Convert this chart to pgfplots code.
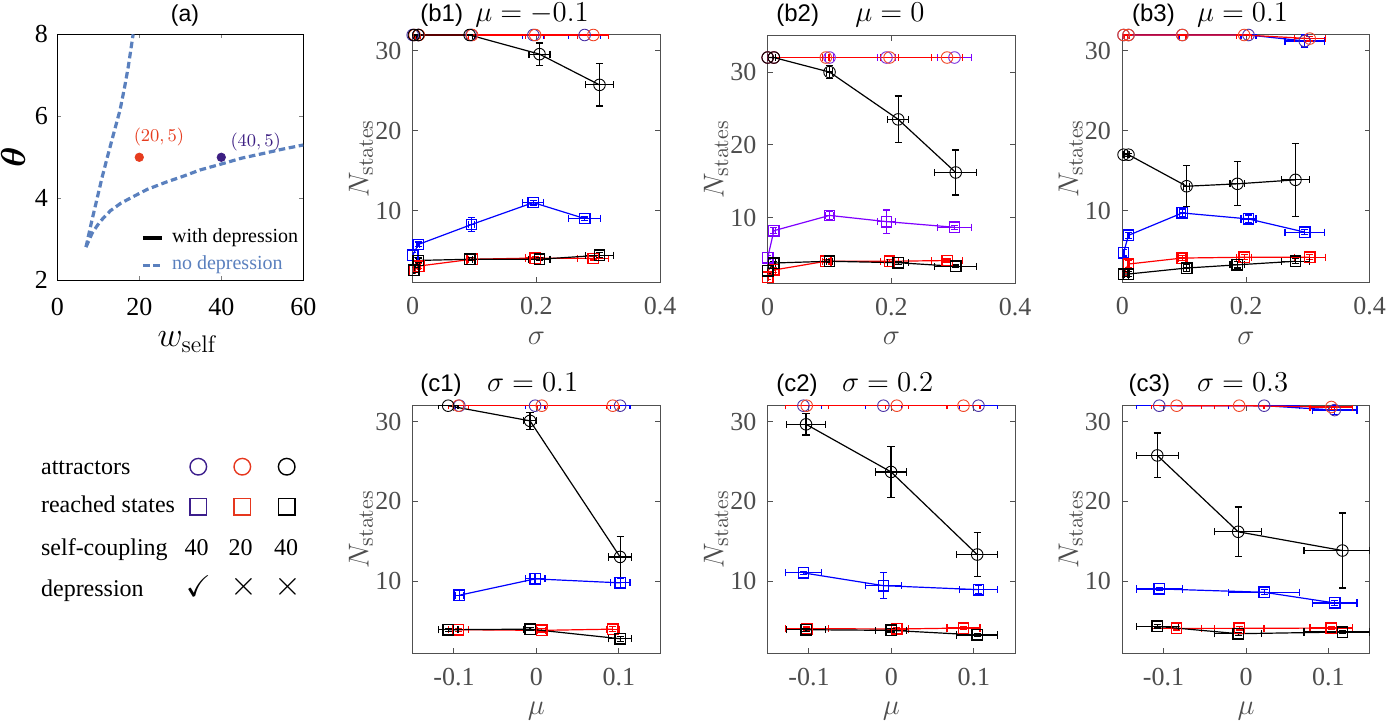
\documentclass[border=0pt]{standalone}
\usepackage[no-math]{fontspec}
\setmainfont{Liberation Serif}
\setsansfont{Liberation Sans}
\usepackage{amssymb}
\usepackage{bm}
\usepackage{pgfplots}
\usepackage{pgfplotstable}
\pgfplotsset{compat=1.18}

\definecolor{axgray}{RGB}{80,80,80}
\definecolor{tickgray}{RGB}{77,77,77}
\definecolor{mblue}{RGB}{0,0,255}
\definecolor{mviolet}{RGB}{127,0,255}
\definecolor{cpurple}{RGB}{75,50,165}
\definecolor{cviolet}{RGB}{120,40,220}
\definecolor{mred}{RGB}{255,0,0}
\definecolor{cred}{RGB}{240,70,40}
\definecolor{legpurple}{RGB}{60,30,140}
\definecolor{legred}{RGB}{230,55,30}
\definecolor{curveblue}{RGB}{90,128,190}
\definecolor{dotred}{RGB}{230,60,30}
\definecolor{dotpurple}{RGB}{60,30,130}

% ---------------- data: x  xerr  attractors  err  reached  err
\pgfplotstableread{
x xe yc yce ys yse
0.000 0.001 32 0 4.40 0.30
0.009 0.002 32 0 5.75 0.30
0.095 0.005 32 0 8.25 0.85
0.195 0.017 32 0 11.00 0.30
0.278 0.026 32 0 9.00 0.20
}\bOneBlue
\pgfplotstableread{
x xe yc yce ys yse
0.003 0.001 32 0 2.55 0.30
0.010 0.002 32 0 3.05 0.30
0.096 0.006 32 0 3.90 0.20
0.198 0.015 32 0 4.05 0.20
0.292 0.025 32 0 4.00 0.20
}\bOneRed
\pgfplotstableread{
x xe yc yce ys yse
0.002 0.001 32 0 2.55 0.30
0.009 0.002 32 0 3.75 0.30
0.092 0.005 32 0 3.90 0.20
0.205 0.017 29.6 1.4 3.90 0.20
0.302 0.023 25.75 2.65 4.40 0.30
}\bOneBlack
\pgfplotstableread{
x xe yc yce ys yse
0.000 0.001 32 0 4.50 0.30
0.010 0.002 32 0 8.20 0.40
0.100 0.006 32 0 10.30 0.60
0.192 0.015 32 0 9.45 1.60
0.302 0.027 32 0 8.67 0.30
}\bTwoBlue
\pgfplotstableread{
x xe yc yce ys yse
0.000 0.001 32 0 1.80 0.30
0.010 0.002 32 0 2.80 0.30
0.094 0.005 32 0 4.00 0.20
0.197 0.015 32 0 4.00 0.20
0.290 0.025 32 0 4.10 0.20
}\bTwoRed
\pgfplotstableread{
x xe yc yce ys yse
0.000 0.001 32 0 2.70 0.30
0.010 0.002 32 0 3.76 0.20
0.100 0.005 30.0 0.9 4.00 0.20
0.211 0.017 23.5 3.2 3.80 0.20
0.304 0.034 16.2 3.1 3.30 0.20
}\bTwoBlack
\pgfplotstableread{
x xe yc yce ys yse
0.002 0.001 32 0 4.70 0.40
0.010 0.002 32 0 6.90 0.40
0.097 0.005 32 0 9.70 0.50
0.204 0.012 32 0 8.95 0.50
0.295 0.032 31.25 0.75 7.30 0.30
}\bThreeBlue
\pgfplotstableread{
x xe yc yce ys yse
0.002 0.001 32 0 2.05 0.20
0.010 0.002 32 0 3.30 0.40
0.097 0.006 32 0 4.05 0.30
0.197 0.012 32 0 4.15 0.30
0.303 0.025 31.55 0.30 4.15 0.30
}\bThreeRed
\pgfplotstableread{
x xe yc yce ys yse
0.002 0.001 17.0 0.2 2.05 0.30
0.010 0.002 17.0 0.2 2.05 0.30
0.104 0.005 13.05 2.55 2.80 0.40
0.186 0.012 13.35 2.75 3.20 0.40
0.280 0.023 13.85 4.60 3.65 0.30
}\bThreeBlack
\pgfplotstableread{
x xe yc yce ys yse
-0.0934 0.005 32 0 8.25 0.70
-0.0016 0.012 32 0 10.30 0.70
0.1015 0.012 32 0 9.80 0.60
}\cOneBlue
\pgfplotstableread{
x xe yc yce ys yse
-0.0946 0.012 32 0 3.93 0.20
0.0065 0.005 32 0 3.85 0.20
0.0926 0.008 32 0 4.00 0.30
}\cOneRed
\pgfplotstableread{
x xe yc yce ys yse
-0.1070 0.012 32 0 3.93 0.20
-0.0077 0.008 30.1 1.05 4.00 0.20
0.1015 0.014 13.05 2.6 2.80 0.30
}\cOneBlack
\pgfplotstableread{
x xe yc yce ys yse
-0.1067 0.022 32 0 11.05 0.20
-0.0097 0.022 32 0 9.45 1.60
0.1056 0.023 32 0 8.95 0.50
}\cTwoBlue
\pgfplotstableread{
x xe yc yce ys yse
-0.1027 0.026 32 0 4.06 0.20
0.0065 0.014 32 0 4.02 0.20
0.0874 0.020 32 0 4.14 0.20
}\cTwoRed
\pgfplotstableread{
x xe yc yce ys yse
-0.1035 0.024 29.67 1.35 3.93 0.20
-0.0004 0.019 23.70 3.20 3.85 0.20
0.1040 0.025 13.35 2.80 3.27 0.20
}\cTwoBlack
\pgfplotstableread{
x xe yc yce ys yse
-0.1052 0.028 32 0 9.04 0.20
0.0220 0.043 32 0 8.62 0.30
0.1076 0.027 31.45 0.60 7.28 0.30
}\cThreeBlue
\pgfplotstableread{
x xe yc yce ys yse
-0.0842 0.030 32 0 4.10 0.20
-0.0083 0.030 32 0 4.10 0.20
0.1035 0.026 31.84 0.30 4.14 0.20
}\cThreeRed
\pgfplotstableread{
x xe xep yc yce ys yse
-0.1076 0.0256 0.0256 25.77 2.8 4.35 0.20
-0.0095 0.0287 0.0287 16.20 3.1 3.43 0.20
0.1169 0.0465 0.0331 13.85 4.7 3.64 0.20
}\cThreeBlack

\pgfplotsset{
  ser/.style={color=#1, line width=0.6pt, solid},
  circs/.style={mark=o, mark size=2.9pt, mark options={draw=#1, line width=0.45pt, solid, fill=none}},
  sqs/.style={mark=square, mark size=2.6pt, mark options={line width=0.7pt, solid, fill=none}},
  errb/.style={error bars/.cd, x dir=both, x explicit, y dir=both, y explicit,
    error bar style={line width=0.6pt, solid},
    error mark options={rotate=90, mark size=1.8pt, line width=0.6pt}},
  bcax/.style={
    anchor=north west, scale only axis, width=123.7pt, height=123.7pt,
    axis line style={draw=axgray, line width=0.5pt},
    every tick/.style={draw=axgray, line width=0.5pt},
    tick align=inside, major tick length=2.6pt,
    ymin=1, ymax=32, ytick={10,20,30}, yticklabels={10,20,30},
    tick label style={font=\fontsize{13}{13}\selectfont, text=tickgray},
    xticklabel style={inner sep=0pt, anchor=north, yshift=-7.2pt},
    yticklabel style={inner sep=0pt, anchor=east, xshift=-5.5pt},
    ylabel={$N_{\mathrm{states}}$},
    ylabel style={at={(axis description cs:-0.209,0.5)}, anchor=center, font=\fontsize{15}{15}\selectfont, text=tickgray, inner sep=0pt},
    xlabel style={at={(axis description cs:0.5,-0.25)}, anchor=base, font=\fontsize{15}{15}\selectfont, text=tickgray, inner sep=0pt},
  },
  bax/.style={bcax, xmin=0, xmax=0.4, xtick={0,0.2,0.4}, xticklabels={0,0.2,0.4}, xlabel={$\sigma$}},
  cax/.style={bcax, xmin=-0.15, xmax=0.15, xtick={-0.1,0,0.1}, xticklabels={-0.1,0,0.1}, xlabel={$\mu$}},
}

\newcommand{\grp}[3]{%
  \addplot[ser=#2, circs=#3, errb] table[x=x, y=yc, x error=xe, y error=yce] {#1};
  \addplot[ser=#2, sqs, errb] table[x=x, y=ys, x error=xe, y error=yse] {#1};
}

\begin{document}
\begin{tikzpicture}

% ---------------- panel (a)
\begin{axis}[at={(28.65pt,-17.15pt)}, anchor=north west, scale only axis, width=123pt, height=123pt,
  xmin=0, xmax=60, ymin=2, ymax=8,
  xtick={0,20,40,60}, xticklabels={0,20,40,60}, ytick={2,4,6,8}, yticklabels={2,4,6,8},
  axis line style={line width=0.5pt}, tick align=inside, major tick length=2pt,
  tick label style={font=\fontsize{13}{13}\selectfont},
  xticklabel style={inner sep=0pt, anchor=north, yshift=-9pt},
  yticklabel style={inner sep=0pt, anchor=east, xshift=-4.5pt},
  xlabel={$w_{\mathrm{self}}$},
  xlabel style={at={(axis description cs:0.53,-0.271)}, anchor=base, font=\fontsize{17}{17}\selectfont, inner sep=0pt},
  ylabel={$\bm{\theta}$},
  ylabel style={at={(axis description cs:-0.18,0.5)}, anchor=center, font=\fontsize{16}{16}\selectfont, inner sep=0pt}]
\addplot[curveblue, line width=1.6pt, dash pattern=on 3.3pt off 1.8pt] coordinates {
  (7.0,2.81) (8.3,3.4) (9.6,3.95) (10.9,4.5) (12.2,5.0) (13.8,5.6) (15.3,6.15) (16.4,6.7) (17.3,7.2) (18.5,8.0)};
\addplot[curveblue, line width=1.6pt, dash pattern=on 3.3pt off 1.8pt] coordinates {
  (7.0,2.81) (8.5,3.15) (10.4,3.43) (13,3.7) (15.5,3.88) (18.5,4.04) (22,4.22) (26.7,4.40) (30.5,4.53)
  (34.8,4.69) (40.5,4.85) (45,4.98) (51,5.11) (55,5.2) (60,5.30)};
\addplot[only marks, mark=*, mark size=2.1pt, color=dotred] coordinates {(20,5)};
\addplot[only marks, mark=*, mark size=2.1pt, color=dotpurple] coordinates {(40,5)};
\node[text=dotred, font=\fontsize{9.5}{9.5}\selectfont, anchor=base, inner sep=0pt] at (axis cs:24.8,5.38) {$(20,5)$};
\node[text=dotpurple, font=\fontsize{9.5}{9.5}\selectfont, anchor=base, inner sep=0pt] at (axis cs:48.4,5.27) {$(40,5)$};
\draw[black, line width=2pt] (rel axis cs:0.348,0.172) -- (rel axis cs:0.425,0.172);
\node[anchor=base west, inner sep=0pt, font=\fontsize{10}{10}\selectfont] at (rel axis cs:0.465,0.152) {with depression};
\draw[curveblue, line width=1.6pt, dash pattern=on 3.3pt off 1.8pt] (rel axis cs:0.348,0.061) -- (rel axis cs:0.425,0.061);
\node[anchor=base west, inner sep=0pt, text=curveblue, font=\fontsize{10}{10}\selectfont] at (rel axis cs:0.465,0.044) {no depression};
\end{axis}
\node[anchor=base, inner sep=0pt, font=\sffamily\fontsize{11.5}{11.5}\selectfont] at (92.5pt,-10.6pt) {(a)};

% ---------------- row b
\begin{axis}[bax, at={(206.35pt,-17.5pt)}]
\grp{\bOneBlue}{mblue}{cpurple}
\grp{\bOneRed}{mred}{cred}
\grp{\bOneBlack}{black}{black}
\end{axis}
\begin{axis}[bax, at={(383.85pt,-17.85pt)}, ymax=35]
\grp{\bTwoBlue}{mviolet}{cviolet}
\grp{\bTwoRed}{mred}{cred}
\grp{\bTwoBlack}{black}{black}
\end{axis}
\begin{axis}[bax, at={(561.15pt,-17.5pt)}]
\grp{\bThreeBlue}{mblue}{cpurple}
\grp{\bThreeRed}{mred}{cred}
\grp{\bThreeBlack}{black}{black}
\end{axis}

% ---------------- row c
\begin{axis}[cax, at={(206.35pt,-202.85pt)}]
\grp{\cOneBlue}{mblue}{cpurple}
\grp{\cOneRed}{mred}{cred}
\grp{\cOneBlack}{black}{black}
\end{axis}
\begin{axis}[cax, at={(383.85pt,-202.85pt)}]
\grp{\cTwoBlue}{mblue}{cpurple}
\grp{\cTwoRed}{mred}{cred}
\grp{\cTwoBlack}{black}{black}
\end{axis}
\begin{axis}[cax, at={(561.15pt,-202.85pt)}]
\grp{\cThreeBlue}{mblue}{cpurple}
\grp{\cThreeRed}{mred}{cred}
\addplot[ser=black, circs=black, error bars/.cd, x dir=both, x explicit, y dir=both, y explicit,
    error bar style={line width=0.6pt, solid}, error mark options={rotate=90, mark size=1.8pt, line width=0.6pt}]
  table[x=x, y=yc, x error plus=xep, x error minus=xe, y error=yce] {\cThreeBlack};
\addplot[ser=black, sqs, error bars/.cd, x dir=both, x explicit, y dir=both, y explicit,
    error bar style={line width=0.6pt, solid}, error mark options={rotate=90, mark size=1.8pt, line width=0.6pt}]
  table[x=x, y=ys, x error plus=xep, x error minus=xe, y error=yse] {\cThreeBlack};
\end{axis}

% ---------------- titles
\begin{scope}[every node/.style={inner sep=0pt, anchor=base west}]
\node[font=\sffamily\fontsize{12}{12}\selectfont] at (210pt,-11pt) {(b1)};
\node[font=\fontsize{14.5}{14.5}\selectfont] at (237.5pt,-11pt) {$\mu=-0.1$};
\node[font=\sffamily\fontsize{12}{12}\selectfont] at (388pt,-11pt) {(b2)};
\node[font=\fontsize{14.5}{14.5}\selectfont] at (427.5pt,-11pt) {$\mu=0$};
\node[font=\sffamily\fontsize{12}{12}\selectfont] at (565.85pt,-11pt) {(b3)};
\node[font=\fontsize{14.5}{14.5}\selectfont] at (598.35pt,-11pt) {$\mu=0.1$};
\node[font=\sffamily\fontsize{12}{12}\selectfont] at (210pt,-195.85pt) {(c1)};
\node[font=\fontsize{14.5}{14.5}\selectfont] at (243.35pt,-195.85pt) {$\sigma=0.1$};
\node[font=\sffamily\fontsize{12}{12}\selectfont] at (388pt,-195.85pt) {(c2)};
\node[font=\fontsize{14.5}{14.5}\selectfont] at (420.85pt,-195.85pt) {$\sigma=0.2$};
\node[font=\sffamily\fontsize{12}{12}\selectfont] at (564.15pt,-195.85pt) {(c3)};
\node[font=\fontsize{14.5}{14.5}\selectfont] at (598.35pt,-195.85pt) {$\sigma=0.3$};
\end{scope}

% ---------------- legend table
\begin{scope}[every node/.style={inner sep=0pt, font=\fontsize{12}{12}\selectfont}]
\node[anchor=base west] at (20.35pt,-237.15pt) {attractors};
\node[anchor=base west] at (20.35pt,-256.35pt) {reached states};
\node[anchor=base west] at (20.35pt,-277.5pt) {self-coupling};
\node[anchor=base west] at (20.35pt,-298.35pt) {depression};
\node[circle, draw=legpurple, line width=0.7pt, minimum size=8.3pt] at (99.15pt,-233.35pt) {};
\node[circle, draw=legred, line width=0.7pt, minimum size=8.3pt] at (121.15pt,-233.35pt) {};
\node[circle, draw=black, line width=0.7pt, minimum size=8.3pt] at (143.35pt,-233.35pt) {};
\node[rectangle, draw=legpurple, line width=0.7pt, minimum size=8.3pt] at (99.15pt,-253.35pt) {};
\node[rectangle, draw=legred, line width=0.7pt, minimum size=8.3pt] at (121.15pt,-253.35pt) {};
\node[rectangle, draw=black, line width=0.7pt, minimum size=8.3pt] at (143.35pt,-253.35pt) {};
\node[anchor=base] at (98.35pt,-277.5pt) {40};
\node[anchor=base] at (120.35pt,-277.5pt) {20};
\node[anchor=base] at (143pt,-277.5pt) {40};
\node[anchor=base, font=\fontsize{15}{15}\selectfont] at (99.2pt,-298.35pt) {$\checkmark$};
\node[anchor=base, font=\fontsize{16}{16}\selectfont] at (122pt,-297.6pt) {$\times$};
\node[anchor=base, font=\fontsize{16}{16}\selectfont] at (144.2pt,-297.6pt) {$\times$};
\end{scope}

\pgfresetboundingbox
\path[use as bounding box] (0pt,0pt) rectangle (693.5pt,-361pt);
\end{tikzpicture}
\end{document}
